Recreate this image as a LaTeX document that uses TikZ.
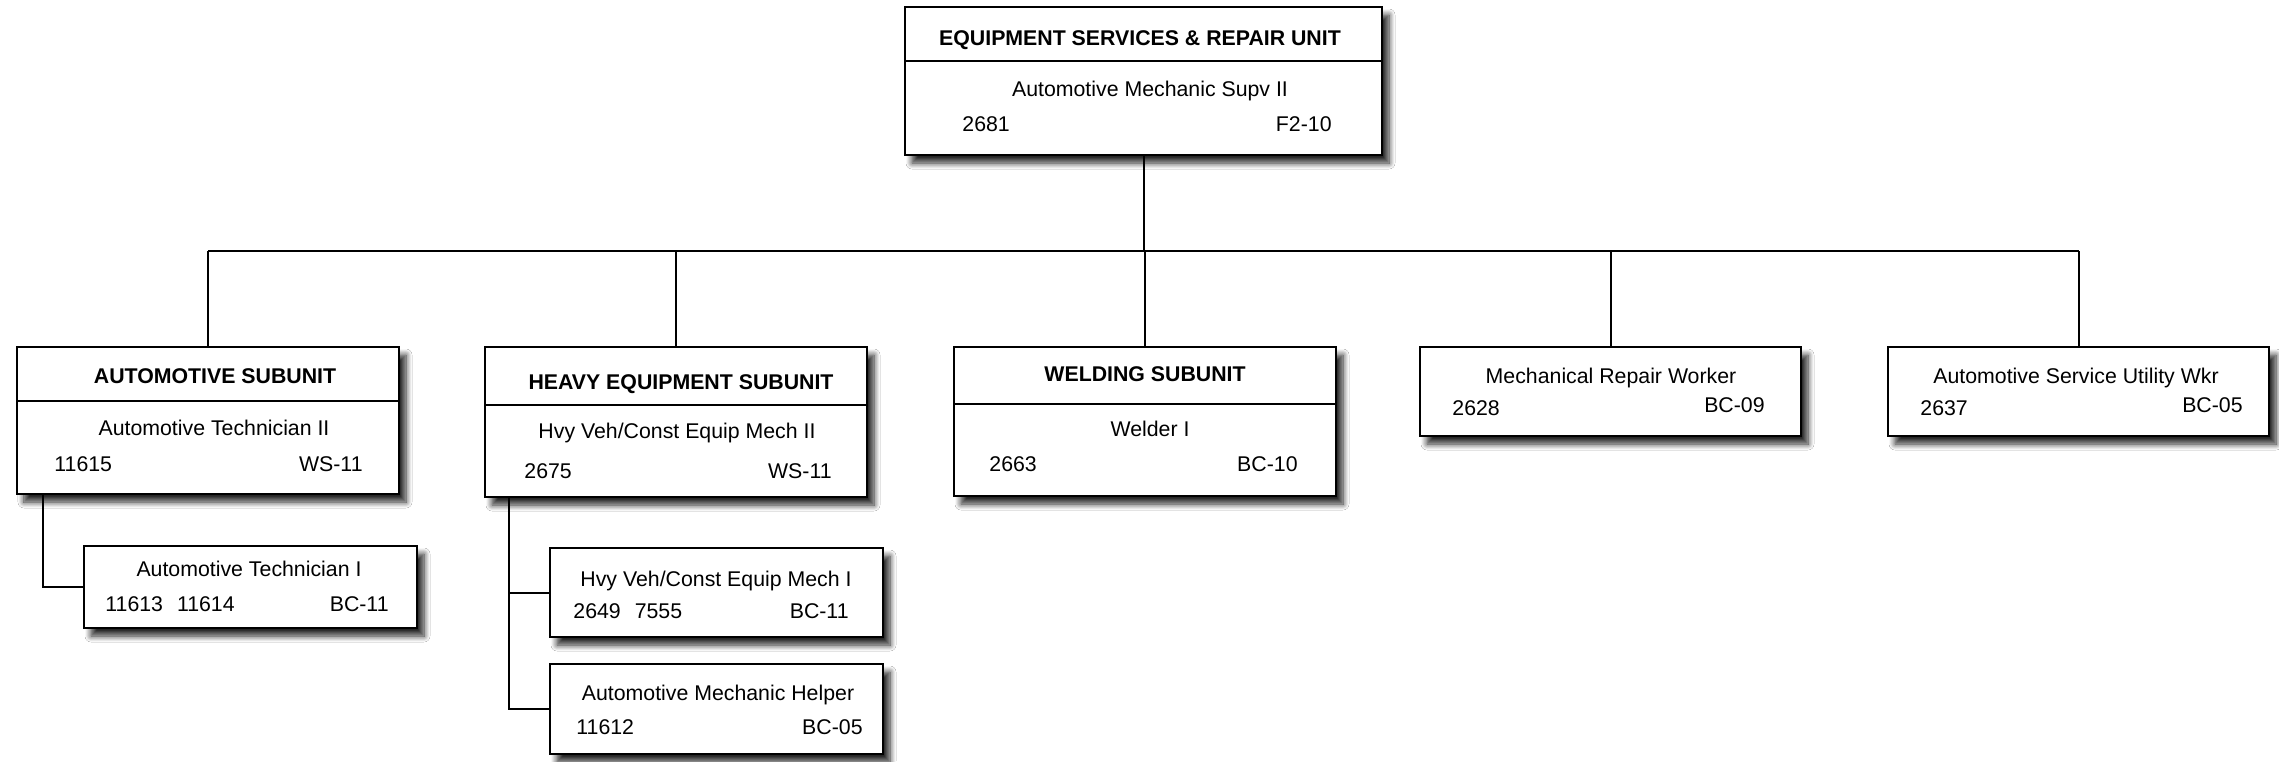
\documentclass[tikz,border=0pt]{standalone}
\usepackage{fontspec}
\setmainfont{Liberation Sans}
\usetikzlibrary{shadows.blur}
\begin{document}
\begin{tikzpicture}[x=0.5pt,y=-0.5pt,
  box/.style={draw, line width=1.3pt, fill=white, inner sep=0pt, minimum width=191pt,
    blur shadow={shadow xshift=3.5pt, shadow yshift=-4pt, shadow blur radius=3pt, shadow blur steps=8, shadow opacity=85}},
  txt/.style={inner sep=0pt, font=\fontsize{10.65pt}{12pt}\selectfont},
  ttl/.style={txt, anchor=base, font=\fontsize{10.65pt}{12pt}\selectfont\bfseries},
  ctr/.style={txt, anchor=base},
  lft/.style={txt, anchor=base west},
  rgt/.style={txt, anchor=base east},
  div/.style={line width=0.8pt},
  conn/.style={line width=1pt}]
\useasboundingbox (0,0) rectangle (2279,761);
\fill[white] (0,0) rectangle (2279,761);

% boxes
\node[box, minimum width=238.5pt, minimum height=74pt] (T) at (1143.5,81) {};
\node[box, minimum height=73.5pt] (A) at (208,420.5) {};
\node[box, minimum height=75pt] (H) at (676,422) {};
\node[box, minimum height=74.5pt] (W) at (1145,421.5) {};
\node[box, minimum width=190.5pt, minimum height=44.5pt] (M) at (1610.5,391.5) {};
\node[box, minimum width=190.5pt, minimum height=44.5pt] (U) at (2078.5,391.5) {};
\node[box, minimum width=166.5pt, minimum height=41pt] (A1) at (250.5,587) {};
\node[box, minimum width=166.5pt, minimum height=44.5pt] (H1) at (716.5,592.5) {};
\node[box, minimum width=166.5pt, minimum height=45pt] (H2) at (716.5,709) {};

% dividers
\draw[div] (905,61) -- (1382,61);
\draw[div] (17,401) -- (399,401);
\draw[div] (485,405) -- (867,405);
\draw[div] (954,404) -- (1336,404);

% top
\node[ttl] (Tt) at (1140,45) {EQUIPMENT SERVICES \& REPAIR UNIT};
\node[ctr] (Tr) at (1150,96) {Automotive Mechanic Supv II};
\node[lft] (Tn) at (962,131) {2681};
\node[rgt] (Tg) at (1332,131) {F2-10};

% automotive
\node[ttl] (At) at (215,383) {AUTOMOTIVE SUBUNIT};
\node[ctr] (Ar) at (214,435) {Automotive Technician II};
\node[lft] (An) at (54,471) {11615};
\node[rgt] (Ag) at (363,471) {WS-11};

% heavy
\node[ttl] (Ht) at (681,389) {HEAVY EQUIPMENT SUBUNIT};
\node[ctr] (Hr) at (677,438) {Hvy Veh/Const Equip Mech II};
\node[lft] (Hn) at (524,478) {2675};
\node[rgt] (Hg) at (832,478) {WS-11};

% welding
\node[ttl] (Wt) at (1145,381) {WELDING SUBUNIT};
\node[ctr] (Wr) at (1150,436) {Welder I};
\node[lft] (Wn) at (989,471) {2663};
\node[rgt] (Wg) at (1298,471) {BC-10};

% mechanical repair
\node[ctr] (Mr) at (1611,383) {Mechanical Repair Worker};
\node[lft] (Mn) at (1452,415) {2628};
\node[rgt] (Mg) at (1765,412) {BC-09};

% utility
\node[ctr] (Ur) at (2076,383) {Automotive Service Utility Wkr};
\node[lft] (Un) at (1920,415) {2637};
\node[rgt] (Ug) at (2243,412) {BC-05};

% auto tech I
\node[ctr] (A1r) at (249,576) {Automotive Technician I};
\node[lft] (A1n) at (105,611) {11613\hspace{7pt}11614};
\node[rgt] (A1g) at (389,611) {BC-11};

% hvy mech I
\node[ctr] (H1r) at (716,586) {Hvy Veh/Const Equip Mech I};
\node[lft] (H1n) at (573,618) {2649\hspace{7pt}7555};
\node[rgt] (H1g) at (849,618) {BC-11};

% helper
\node[ctr] (H2r) at (718,700) {Automotive Mechanic Helper};
\node[lft] (H2n) at (576,734) {11612};
\node[rgt] (H2g) at (863,734) {BC-05};

% connectors
\coordinate (bus) at (0,251);
\coordinate (ax) at (43,0);
\coordinate (hx) at (509,0);
\draw[conn] (T.south) -- (T.south |- bus);
\draw[conn] (A.north |- bus) -- (U.north |- bus);
\draw[conn] (A.north) -- (A.north |- bus);
\draw[conn] (H.north) -- (H.north |- bus);
\draw[conn] (W.north) -- (W.north |- bus);
\draw[conn] (M.north) -- (M.north |- bus);
\draw[conn] (U.north) -- (U.north |- bus);
\draw[conn] (A.south -| ax) |- (A1.west);
\draw[conn] (H.south -| hx) |- (H1.west);
\draw[conn] (H.south -| hx) |- (H2.west);
\end{tikzpicture}
\end{document}
